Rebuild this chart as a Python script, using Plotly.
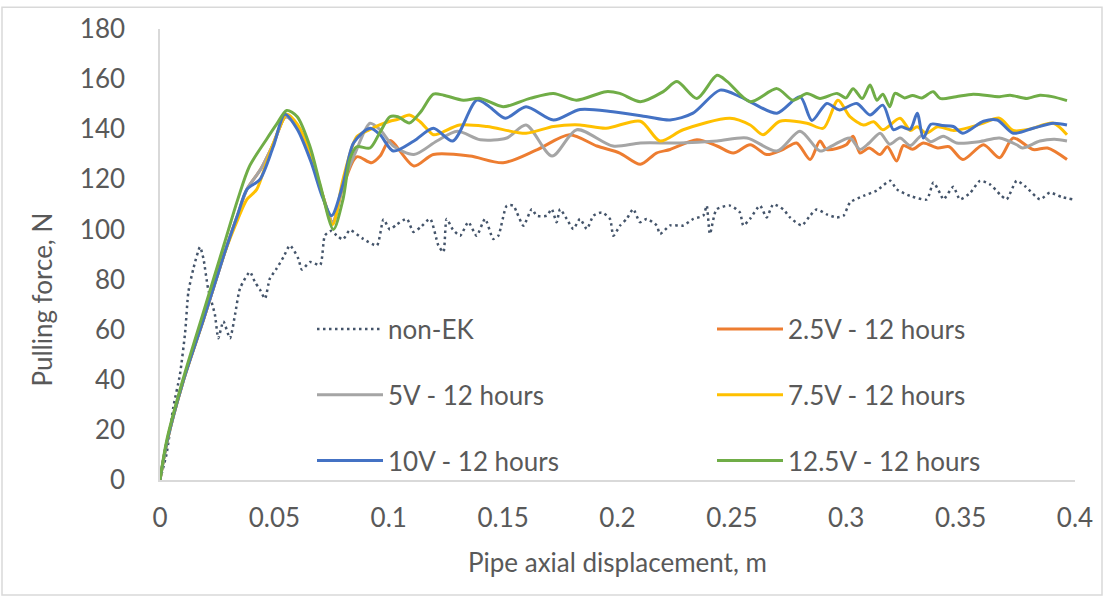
import plotly.graph_objects as go

# Pipe axial displacement (m) and pulling force (N) for each test
x_non_ek = [0, 0.0029, 0.0058, 0.0087, 0.011, 0.0124, 0.0146, 0.0175, 0.019, 0.021, 0.024, 0.0255,
            0.0277, 0.0306, 0.0328, 0.035, 0.0393, 0.0415, 0.0437, 0.0459, 0.048, 0.051, 0.054,
            0.0568, 0.0605, 0.062, 0.0656, 0.07, 0.0721, 0.075, 0.0772, 0.08, 0.083, 0.0889,
            0.0948, 0.0977, 0.1005, 0.1035, 0.1079, 0.1108, 0.114, 0.1181, 0.1217, 0.1239, 0.1253,
            0.128, 0.1312, 0.1348, 0.1384, 0.1421, 0.1457, 0.1479, 0.1516, 0.1545, 0.156, 0.1589,
            0.1625, 0.1647, 0.1691, 0.1712, 0.1734, 0.1749, 0.1778, 0.1807, 0.1836, 0.1866, 0.1895,
            0.1931, 0.1967, 0.1982, 0.2011, 0.204, 0.2069, 0.2098, 0.2128, 0.2171, 0.2186, 0.223,
            0.2288, 0.2332, 0.2375, 0.239, 0.2404, 0.2433, 0.2492, 0.2535, 0.255, 0.2579, 0.2623,
            0.2652, 0.2681, 0.2725, 0.2754, 0.2805, 0.2842, 0.2871, 0.2915, 0.2958, 0.2988, 0.3017,
            0.3075, 0.3133, 0.3192, 0.3221, 0.3279, 0.3352, 0.3381, 0.341, 0.3425, 0.3468, 0.3497,
            0.3541, 0.3585, 0.3628, 0.3672, 0.3701, 0.3745, 0.3785, 0.3847, 0.389, 0.394, 0.399]
f_non_ek = [0, 10.6, 29, 42, 59, 75, 84.4, 93, 88.3, 76.5, 66, 56.6,
            63.3, 56.6, 66, 76.5, 83, 79, 76, 72.4, 80.3, 84.4, 89,
            93.6, 88.3, 84, 87, 85.8, 97.6, 99.5, 97.6, 96, 99.7, 96.2,
            93.6, 104, 100, 102, 104.2, 99, 101, 104.2, 93.6, 91, 104.2,
            100, 97.5, 102.9, 97.5, 104.2, 96.2, 97.5, 109.5, 109.5, 106.8, 101.5,
            108.1, 105.5, 105.5, 108.1, 102.9, 108.1, 104.2, 100.2, 104.2, 100.2, 105.5,
            106.8, 104.2, 97.5, 101.5, 104.2, 108.1, 102.9, 104.2, 101.6, 98.2, 101.6,
            101.6, 104.2, 105.5, 109.5, 98.2, 108, 109.5, 106.8, 101.6, 104.2, 109.5,
            104.8, 110, 108, 104.8, 101.6, 105.5, 108, 106, 104.8, 105.5, 110.8,
            113.4, 115.5, 119.4, 116, 113.4, 112, 118.7, 114.5, 112, 117, 112,
            114.5, 119.4, 118, 114, 112, 119.4, 117, 112, 114.7, 113, 112]

x_2v5 = [0, 0.003, 0.010, 0.019, 0.028, 0.034, 0.038, 0.044, 0.0495, 0.055, 0.060, 0.066, 0.071,
         0.0755, 0.080, 0.086, 0.0925, 0.0962, 0.1005, 0.111, 0.1195, 0.1355, 0.15, 0.165, 0.179,
         0.191, 0.201, 0.21, 0.217, 0.223, 0.2347, 0.2435, 0.2506, 0.258, 0.2652, 0.2725, 0.2783,
         0.2842, 0.2885, 0.2915, 0.3, 0.303, 0.306, 0.31, 0.3148, 0.318, 0.322, 0.325, 0.329,
         0.3337, 0.34, 0.345, 0.351, 0.36, 0.367, 0.373, 0.3817, 0.388, 0.3965]
f_2v5 = [0, 15, 39, 64, 90, 106, 116, 124, 134, 145, 141, 128, 114,
         103, 117, 129, 126.6, 129.3, 135.5, 125.3, 129.9, 129.3, 126.6, 131.9, 137.8,
         133.3, 130.5, 126, 130.5, 131.9, 135.8, 133.3, 130.5, 133.8, 129.9, 132, 134.5,
         127.9, 135.3, 131.9, 133.8, 137.2, 130.5, 132.5, 129.9, 133, 127.3, 133.5, 132,
         134.5, 132.5, 133, 127.9, 133.8, 128.6, 136.5, 131.9, 132.5, 127.9]

x_5v = [0, 0.003, 0.010, 0.019, 0.028, 0.034, 0.038, 0.044, 0.0495, 0.055, 0.060, 0.066, 0.071,
        0.0755, 0.080, 0.086, 0.0918, 0.0962, 0.102, 0.111, 0.121, 0.13, 0.14, 0.1516, 0.16,
        0.1714, 0.1822, 0.198, 0.21, 0.2273, 0.2435, 0.2566, 0.2697, 0.2798, 0.2885, 0.294,
        0.3016, 0.306, 0.31, 0.3148, 0.319, 0.3235, 0.328, 0.333, 0.337, 0.3424, 0.3483, 0.358,
        0.367, 0.3745, 0.377, 0.3847, 0.391, 0.3965]
f_5v = [0, 15, 39, 64, 90, 106, 116, 124, 134, 145, 141, 128, 114,
        103, 118, 132, 142.4, 139.8, 133.3, 129.9, 135.3, 139.2, 135.8, 136.5, 141.7,
        129.3, 139.8, 133.3, 134.5, 134.5, 135.3, 136.5, 131.3, 139.2, 131.3, 133.5,
        136.5, 131.9, 134.5, 138.4, 134, 136.5, 133.5, 137.5, 135, 137.2, 134.5, 135,
        136.5, 133.8, 132.5, 135.3, 136, 135.3]

x_7v5 = [0, 0.003, 0.010, 0.019, 0.028, 0.034, 0.038, 0.0423, 0.047, 0.052, 0.0555, 0.060, 0.066,
         0.071, 0.0755, 0.080, 0.086, 0.091, 0.096, 0.1005, 0.104, 0.109, 0.1137, 0.1195, 0.1224,
         0.131, 0.143, 0.16, 0.172, 0.1836, 0.195, 0.21, 0.2186, 0.2287, 0.2492, 0.258, 0.2636,
         0.271, 0.2828, 0.29, 0.2964, 0.3016, 0.3075, 0.312, 0.316, 0.3235, 0.328, 0.331, 0.335,
         0.34, 0.347, 0.355, 0.36, 0.367, 0.373, 0.38, 0.3905, 0.3965]
f_7v5 = [0, 15, 39, 64, 90, 104, 112, 116, 128, 140, 146, 142, 130,
         114, 102, 120, 137, 139.5, 141.7, 143.2, 144, 145.7, 143, 137.8, 138.4,
         141.7, 141.1, 138.4, 141.1, 141.7, 140.4, 143.2, 135.3, 139.8, 144.4, 141.7, 137.8,
         143.2, 142.4, 140.4, 151.6, 145, 141.7, 143, 139.8, 144.4, 139.5, 141, 138.4,
         141, 139.5, 141, 142.5, 144.4, 139.5, 140, 142.4, 137.8]

x_10v = [0, 0.003, 0.010, 0.019, 0.028, 0.034, 0.038, 0.0437, 0.0495, 0.0546, 0.060, 0.066, 0.071,
         0.075, 0.080, 0.0846, 0.0918, 0.0962, 0.102, 0.111, 0.1195, 0.128, 0.1385, 0.144, 0.151,
         0.160, 0.172, 0.1836, 0.198, 0.213, 0.223, 0.233, 0.2448, 0.2535, 0.2593, 0.2697, 0.2798,
         0.285, 0.2915, 0.297, 0.3046, 0.3104, 0.316, 0.3206, 0.324, 0.328, 0.331, 0.3337, 0.337,
         0.342, 0.3468, 0.351, 0.36, 0.366, 0.373, 0.3817, 0.3905, 0.3965]
f_10v = [0, 15, 39, 64, 90, 106, 116, 120, 133, 146, 140, 127, 113,
         105.5, 118, 134.5, 140.4, 137.8, 131.3, 135.3, 140.4, 135.3, 151.6, 149, 144.4,
         149, 143.7, 147.9, 147, 145, 143.7, 146.4, 155.6, 153, 150.3, 146.4, 153,
         143.5, 150.3, 147.7, 150.3, 145.7, 149.6, 139.8, 141, 140, 146.4, 136.5, 142,
         141.5, 141.1, 138.4, 143.2, 143.7, 138.4, 140.4, 142.4, 141.7]

x_12v5 = [0, 0.003, 0.010, 0.019, 0.028, 0.034, 0.039, 0.0466, 0.051, 0.0554, 0.060, 0.0656, 0.070,
          0.0758, 0.080, 0.083, 0.086, 0.0918, 0.096, 0.1005, 0.104, 0.109, 0.114, 0.1195, 0.124,
          0.1326, 0.14, 0.15, 0.1617, 0.172, 0.182, 0.195, 0.201, 0.21, 0.22, 0.226, 0.2347,
          0.2435, 0.248, 0.258, 0.2697, 0.2767, 0.2828, 0.2885, 0.296, 0.2998, 0.303, 0.307,
          0.3104, 0.3134, 0.316, 0.319, 0.3213, 0.3255, 0.329, 0.333, 0.338, 0.341, 0.348,
          0.3555, 0.367, 0.3716, 0.379, 0.3847, 0.39, 0.3965]
f_12v5 = [0, 16, 40, 67, 94, 112, 125, 136, 142, 147.5, 145, 133, 118,
          100, 112, 128, 133, 132.5, 138.5, 145, 145, 142.5, 147, 154, 153.6,
          151.6, 152.3, 149, 152.3, 154.3, 151.6, 155, 154.3, 151, 155, 159, 152.3,
          161.5, 159, 151, 156.2, 151.6, 154.3, 152.3, 154.3, 152.5, 156.2, 152.3,
          157.6, 151.6, 154, 149, 154.3, 152.5, 153.5, 152.5, 155, 152.3, 153,
          154, 153, 153.6, 152.3, 153.6, 153, 151.4]

series_names = ["non-EK", "2.5V - 12 hours", "5V - 12 hours", "7.5V - 12 hours",
                "10V - 12 hours", "12.5V - 12 hours"]
series_colors = ["#44546A", "#ED7D31", "#A5A5A5", "#FFC000", "#4472C4", "#70AD47"]
series_legend = ["legend", "legend2", "legend", "legend2", "legend", "legend2"]
series_x = [x_non_ek, x_2v5, x_5v, x_7v5, x_10v, x_12v5]
series_y = [f_non_ek, f_2v5, f_5v, f_7v5, f_10v, f_12v5]

x_tick_vals = [0, 0.05, 0.1, 0.15, 0.2, 0.25, 0.3, 0.35, 0.4]
x_tick_text = ["0", "0.05", "0.1", "0.15", "0.2", "0.25", "0.3", "0.35", "0.4"]
y_tick_vals = [0, 20, 40, 60, 80, 100, 120, 140, 160, 180]

FONT = "Lato, 'Open Sans', sans-serif"
FS = 26
TEXT = "#595959"
AXIS = "#D9D9D9"

fig = go.Figure()
for i, (name, color, leg, xs, ys) in enumerate(
        zip(series_names, series_colors, series_legend, series_x, series_y)):
    line = dict(color=color, width=3, shape="spline", smoothing=0.8)
    if i == 0:
        line.update(width=2.5, dash="2.5px,3.5px", smoothing=0.6)
    fig.add_trace(go.Scatter(x=xs, y=ys, mode="lines", name=name, line=line,
                             legend=leg, legendgroup=name))

W, H = 1105, 599
L, R, T, B = 160, 30, 25, 119
pw, ph = W - L - R, H - T - B


def px_x(p):
    return (p - L) / pw


def px_y(p):
    return (H - B - p) / ph


legend_common = dict(
    font=dict(family=FONT, size=FS, color=TEXT),
    bgcolor="rgba(0,0,0,0)", borderwidth=0,
    itemwidth=66, tracegroupgap=29, traceorder="grouped",
    xanchor="left", yanchor="top",
)

fig.update_layout(
    width=W, height=H,
    margin=dict(l=L, r=R, t=T, b=B, pad=0),
    paper_bgcolor="white", plot_bgcolor="white",
    font=dict(family=FONT, size=FS, color=TEXT),
    showlegend=True,
    legend=dict(x=px_x(312), y=px_y(304), **legend_common),
    legend2=dict(x=px_x(712), y=px_y(304), **legend_common),
    xaxis=dict(range=[0, 0.4], tickvals=x_tick_vals, ticktext=x_tick_text,
               showgrid=False, zeroline=False, showline=True, linecolor=AXIS, linewidth=1.5,
               ticks="", ticklabelstandoff=14,
               tickfont=dict(family=FONT, size=FS, color=TEXT)),
    yaxis=dict(range=[0, 180], tickvals=y_tick_vals,
               showgrid=False, zeroline=False, showline=True, linecolor=AXIS, linewidth=1.5,
               ticks="", ticklabelstandoff=28,
               tickfont=dict(family=FONT, size=FS, color=TEXT)),
    annotations=[
        dict(text="Pulling force, N", textangle=-90, xref="paper", yref="paper",
             x=px_x(42), y=px_y(298), xanchor="center", yanchor="middle",
             showarrow=False, font=dict(family=FONT, size=FS, color=TEXT)),
        dict(text="Pipe axial displacement, m", xref="paper", yref="paper",
             x=px_x(617), y=px_y(563), xanchor="center", yanchor="middle",
             showarrow=False, font=dict(family=FONT, size=FS, color=TEXT)),
    ],
    shapes=[dict(type="rect", xref="paper", yref="paper",
                 x0=px_x(2), x1=px_x(1102), y0=px_y(596), y1=px_y(3),
                 line=dict(color=AXIS, width=1.5), fillcolor="rgba(0,0,0,0)", layer="below")],
)

fig.write_html("out.html")
